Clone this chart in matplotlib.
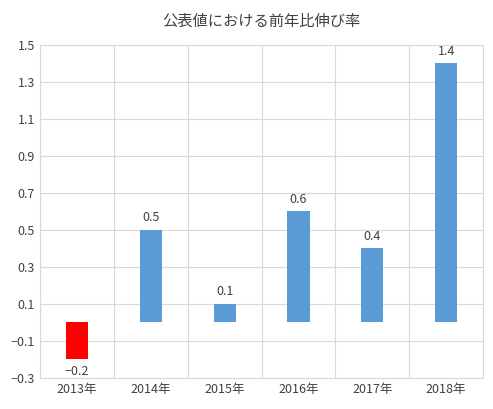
import matplotlib
matplotlib.use('Agg')
import matplotlib.pyplot as plt
import numpy as np

plt.rcParams['font.family'] = ['Noto Sans CJK JP', 'DejaVu Sans']

years = ['2013年', '2014年', '2015年', '2016年', '2017年', '2018年']
values = [-0.2, 0.5, 0.1, 0.6, 0.4, 1.4]
colors = ['#ff0000', '#5b9bd5', '#5b9bd5', '#5b9bd5', '#5b9bd5', '#5b9bd5']
yticks = [-0.3, -0.1, 0.1, 0.3, 0.5, 0.7, 0.9, 1.1, 1.3, 1.5]

fig = plt.figure(figsize=(4.93, 4.09), dpi=100)
ax = fig.add_axes([0.081, 0.076, 0.899, 0.814])

x = np.arange(len(years))
ax.bar(x, values, width=0.3, color=colors, zorder=3)
for xi, v in zip(x, values):
    off = 0.03 if v >= 0 else -0.03
    ax.text(xi, v + off, f'{v:.1f}'.replace('-', '−'), ha='center',
            va='bottom' if v >= 0 else 'top', fontsize=9, color='#404040')

ax.set_xlim(-0.5, len(years) - 0.5)
ax.set_ylim(-0.3, 1.5)
ax.set_yticks(yticks)
ax.set_yticklabels([f'{t:g}'.replace('-', '−') for t in yticks])
ax.set_xticks(x)
ax.set_xticklabels(years)
ax.set_xticks(np.arange(-0.5, len(years)), minor=True)
ax.grid(True, which='major', axis='y', color='#d9d9d9', lw=0.8, zorder=0)
ax.grid(True, which='minor', axis='x', color='#d9d9d9', lw=0.8, zorder=0)
ax.tick_params(which='both', length=0, labelsize=9, colors='#404040')
for s in ax.spines.values():
    s.set_color('#d9d9d9')
ax.set_title('公表値における前年比伸び率', fontsize=11, color='#404040', pad=14)

plt.savefig('out.png', dpi=100)
